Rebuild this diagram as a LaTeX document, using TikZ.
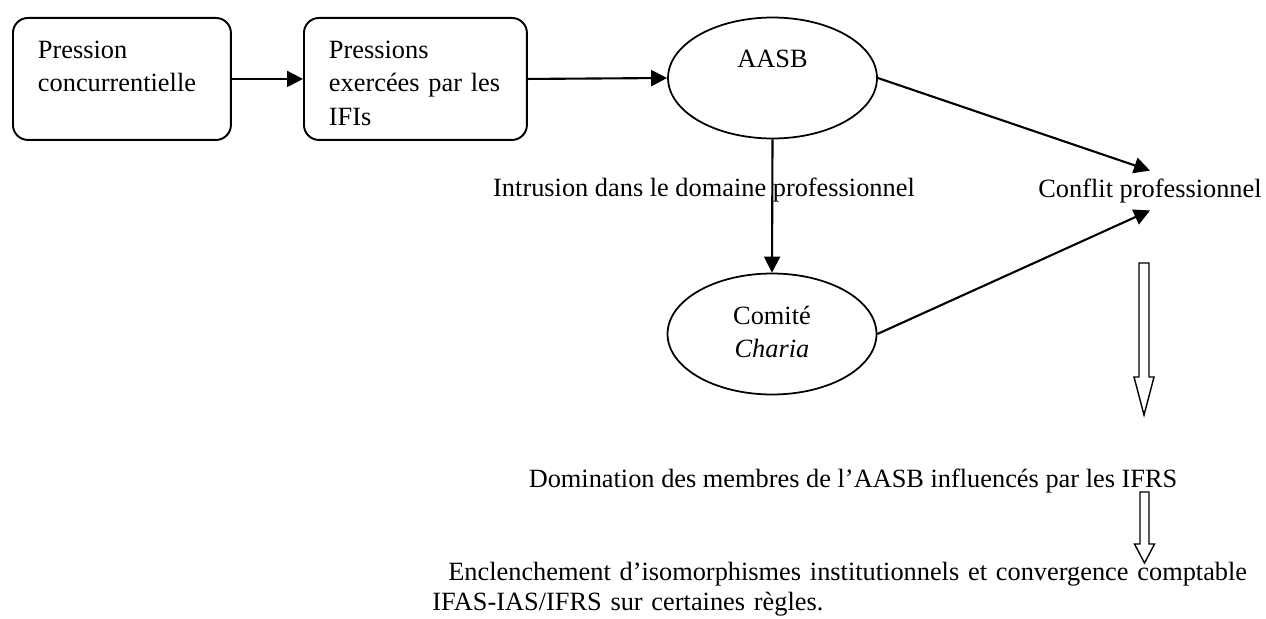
\documentclass[tikz,border=0pt]{standalone}
\usepackage{fontspec}
\setmainfont{Liberation Serif}
\usetikzlibrary{shapes.geometric,arrows.meta,calc}

\begin{document}
\begin{tikzpicture}[
    x=0.02cm, y=-0.02cm,
    font=\fontsize{15}{18.8}\selectfont,
    arr/.style={-{Triangle[length=0.32cm,width=0.32cm]}, line width=1.2pt},
    box/.style={draw, line width=1.1pt, rounded corners=0.3cm, anchor=north west, text width=3.96cm, align=left, inner xsep=0.2cm, inner ysep=0.2cm, text height=0.62cm, text depth=1.42cm, execute at begin node={\leftskip=0.3cm}},
    org/.style={draw, ellipse, line width=1pt, minimum width=4.18cm, minimum height=2.42cm, text width=2.6cm, align=center, inner sep=0pt, text height=0.4cm, text depth=0.8cm},
    txt/.style={anchor=base, inner sep=0pt},
    hollow/.style={draw, line width=0.8pt, line join=miter}
]
  \useasboundingbox (0,0) rectangle (1266,618);

  % Pressions
  \node[box] (conc) at (12,17) {Pression\\concurrentielle};
  \node[box, text width=4.06cm] (ifi) at (303,17) {Pressions\\exercées par les\\IFIs};

  % Organes
  \node[org] (aasb) at (772.5,78) {AASB};
  \node[org] (comite) at (772,334) {Comité\\\textit{Charia}};

  % Textes
  \node[txt] (intrusion) at (704,196) {Intrusion dans le domaine professionnel};
  \node[txt, inner sep=0.15cm] (conflit) at (1150,197) {Conflit professionnel};
  \node[txt] (domination) at (853,487) {Domination des membres de l’AASB influencés par les IFRS};
  \node[txt, anchor=base west, text width=17cm, align=left, font=\fontsize{15}{17.4}\selectfont] (enclench) at (432,580)
    {\hspace*{0.32cm}Enclenchement d’isomorphismes institutionnels et convergence comptable\\IFAS-IAS/IFRS sur certaines règles.};

  % Fleches
  \draw[arr] (conc.east) -- (ifi.west);
  \draw[arr] (ifi.east) -- (aasb.west);
  \draw[arr] (aasb.south) -- (comite.north);
  \draw[arr] (aasb.east) -- (conflit.north);
  \draw[arr] (comite.east) -- (conflit.south);

  % Fleches creuses
  \coordinate (h1) at (1144,263);
  \coordinate (h1tip) at (1144,415);
  \draw[hollow] ($(h1)+(-5,0)$) -- ($(h1)+(5,0)$) -- ($(h1tip)+(5,-38)$) -- ($(h1tip)+(10,-38)$)
    -- (h1tip) -- ($(h1tip)+(-10,-38)$) -- ($(h1tip)+(-5,-38)$) -- cycle;
  \coordinate (h2) at (1144.5,492);
  \coordinate (h2tip) at (1144.5,563);
  \draw[hollow] ($(h2)+(-4.5,0)$) -- ($(h2)+(4.5,0)$) -- ($(h2tip)+(4.5,-19)$) -- ($(h2tip)+(10,-19)$)
    -- (h2tip) -- ($(h2tip)+(-10,-19)$) -- ($(h2tip)+(-4.5,-19)$) -- cycle;
\end{tikzpicture}
\end{document}
